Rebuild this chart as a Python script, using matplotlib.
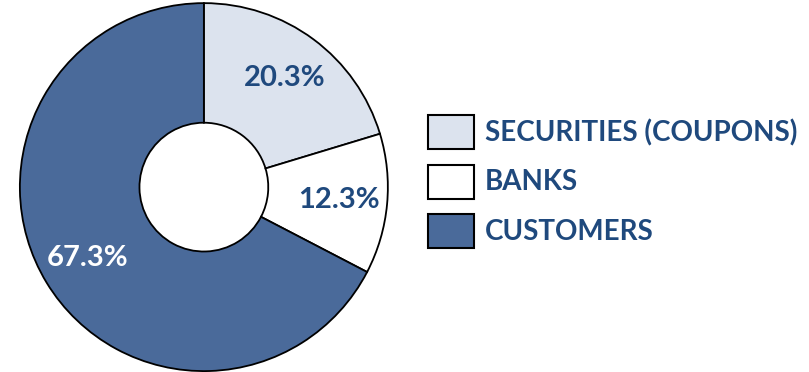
import matplotlib.pyplot as plt
from matplotlib.patches import Rectangle

plt.rcParams['font.family'] = ['Lato', 'DejaVu Sans']

categories = ['SECURITIES (COUPONS)', 'BANKS', 'CUSTOMERS']
shares = [20.3, 12.3, 67.3]
colors = ['#DCE3EE', '#FFFFFF', '#4A6A9A']
label_colors = ['#1F497D', '#1F497D', '#FFFFFF']

W, H = 809, 372
fig = plt.figure(figsize=(W / 100, H / 100), dpi=100)
ax = fig.add_axes([0.252 - 0.2275, 0.497 - 0.4946, 0.455, 0.9892])

# percentage text comes straight from the shares, not from the normalised wedge
labels = iter(shares)
wedges, texts, autotexts = ax.pie(
    shares, colors=colors, startangle=90, counterclock=False,
    autopct=lambda p: '%.1f%%' % next(labels), pctdistance=0.74, radius=1,
    wedgeprops=dict(width=0.65, edgecolor='black', linewidth=1.3),
    textprops=dict(fontsize=21, fontweight='bold'))
for t, c in zip(autotexts, label_colors):
    t.set_color(c)
ax.set_xlim(-1, 1)
ax.set_ylim(-1, 1)
ax.set_aspect('equal')

# legend: boxes and labels laid out in pixel steps
box_x, box_w, box_h = 428, 46, 34
top0, pitch = 115, 49.5
for i, (name, c) in enumerate(zip(categories, colors)):
    top = top0 + i * pitch
    fig.add_artist(Rectangle((box_x / W, 1 - (top + box_h) / H), box_w / W, box_h / H,
                             transform=fig.transFigure, facecolor=c,
                             edgecolor='black', linewidth=1.5))
    fig.text(485 / W, 1 - (top + box_h / 2 + 1) / H, name, ha='left', va='center',
             fontsize=20, fontweight='bold', color='#1F497D')

fig.savefig('out.png', dpi=100)
